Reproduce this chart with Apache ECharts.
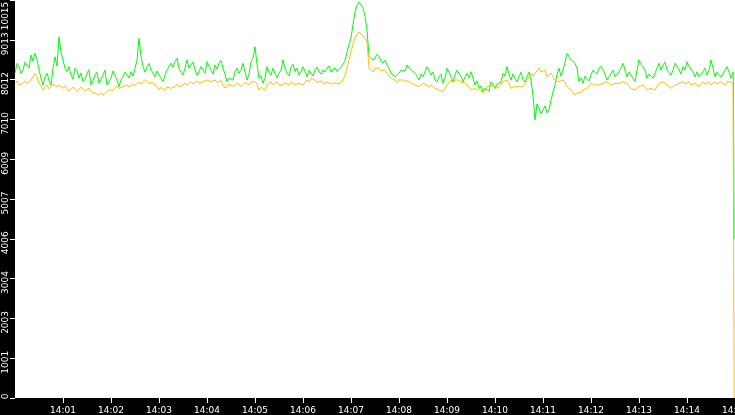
<!DOCTYPE html>
<html>
<head>
<meta charset="utf-8">
<script src="https://cdn.jsdelivr.net/npm/echarts@6.0.0/dist/echarts.min.js"></script>
<style>
html,body{margin:0;padding:0;background:#000;}
#chart{width:735px;height:415px;}
</style>
</head>
<body>
<div id="chart"></div>
<script>
// seconds after 14:00:00, one sample every 2.5 s
var stepSec = 2.5;
var greenVals = [
	8171,8420,8337,8160,8254,8450,8380,8300,8631,8480,
	8674,8520,8254,8050,7876,8080,8171,8000,7876,8300,
	8588,8350,9092,8700,8505,8300,8211,8340,8128,8020,
	8297,8240,8045,8180,7959,8020,8171,8260,7876,7980,
	8128,8200,7919,7960,8128,8250,7876,7960,8045,8230,
	8128,7990,7834,8010,8085,8200,8128,8050,8211,8100,
	8297,8500,9051,8600,8337,8200,8337,8420,8254,8180,
	8085,8230,8128,8050,7959,8120,8254,8300,8422,8330,
	8463,8550,8297,8200,8128,8300,8505,8300,8380,8460,
	8254,8120,8211,8340,8254,8180,8463,8350,8254,8150,
	8380,8280,8422,8500,8297,8150,7959,8050,8085,8000,
	8211,8300,8171,8250,8422,8200,8002,8150,8463,8550,
	8840,8400,8045,8100,7919,8050,8337,8200,8128,8300,
	8171,8060,8171,8250,8505,8300,8171,8100,8337,8400,
	8211,8300,8128,8200,8337,8220,8085,8250,8171,8100,
	8254,8330,8211,8150,8254,8200,8304,8360,8204,8250,
	8304,8220,8254,8320,8354,8480,8707,8900,9059,9400,
	9713,9880,9965,9920,9814,9600,9260,8600,8631,8500,
	8556,8650,8588,8480,8422,8500,8380,8300,8171,8220,
	8085,8050,8171,8250,8297,8220,8380,8420,8254,8280,
	8171,8100,8002,8150,8085,8050,8337,8250,8128,8200,
	8002,7950,8085,8150,7919,8050,8297,8200,8085,7950,
	8128,8250,8211,8100,7959,8080,8171,8050,8211,8050,
	7876,7980,7793,7850,7708,7800,7793,7720,7959,7900,
	7793,7900,7876,7950,8171,8100,8337,8150,8002,8150,
	8045,7950,8085,8200,8002,7950,8085,8200,8002,7600,
	6996,7400,7298,7150,7248,7350,7172,7250,7499,7700,
	7876,8150,8297,8100,8254,8450,8674,8600,8505,8550,
	8422,8300,7959,8050,7919,8100,8045,7980,8128,8250,
	8211,8150,8297,8350,8254,8150,8002,8080,8171,8250,
	8085,8050,8211,8300,8422,8250,8085,8200,8128,8050,
	7959,8250,8505,8400,8337,8250,8045,8150,8128,8050,
	8171,8300,8422,8250,8380,8450,8254,8300,8128,8250,
	8422,8350,8254,8150,8337,8250,8463,8350,8337,8200,
	8085,8200,8085,8050,8211,8300,8128,8250,8505,8300,
	8085,8200,8211,8080,8128,8250,8337,8200,8045,8200
];
var yellowVals = [
	7919,7980,7876,7830,7919,7980,7919,7870,8002,8050,
	8171,8080,7919,7850,7751,7800,7876,7780,7834,7900,
	7876,7820,7876,7900,7793,7850,7793,7720,7751,7820,
	7793,7720,7751,7820,7793,7720,7751,7800,7708,7740,
	7668,7700,7625,7680,7625,7600,7708,7760,7793,7740,
	7793,7850,7793,7760,7834,7880,7876,7820,7876,7920,
	7876,7840,7959,7900,7959,8010,8002,7920,7876,7940,
	7876,7820,7751,7820,7793,7740,7834,7880,7793,7760,
	7834,7900,7834,7800,7876,7930,7876,7850,7959,7900,
	7919,7980,7919,7870,7959,7920,8002,8040,7959,7920,
	8002,7940,7959,7990,7876,7800,7834,7900,7919,7840,
	7876,7930,7919,7840,7876,7940,7919,7880,7959,7910,
	7959,7900,7751,7820,7793,7740,7876,7900,7959,7880,
	7919,7960,7876,7830,7876,7940,7919,7870,7959,7920,
	7876,7840,7919,7940,7876,7900,8002,7950,8045,8060,
	8002,7940,7959,7980,7902,7860,7952,7960,7902,7860,
	7927,7960,7902,7930,8002,8120,8304,8500,8707,8900,
	9059,9150,9209,9230,9109,9050,8958,8300,8254,8200,
	8304,8330,8297,8230,8211,8260,8171,8100,8045,8080,
	8002,7940,8002,8050,8002,7950,8002,7980,7919,7950,
	7876,7900,7834,7820,7919,7940,7876,7820,7876,7880,
	7793,7820,7751,7760,7708,7720,7876,7920,8002,7940,
	8002,8050,8002,7940,7919,7930,7876,7840,7751,7800,
	7793,7740,7793,7760,7668,7720,7834,7800,7876,7880,
	7793,7780,7834,7880,7959,7930,8002,7920,7793,7760,
	7834,7880,7834,7790,7834,7900,8002,8050,8171,8100,
	8171,8230,8304,8200,8211,8250,8085,8050,8171,8150,
	8002,8050,7959,7920,8002,7950,7834,7800,7751,7720,
	7625,7680,7708,7680,7751,7800,7793,7830,7919,7950,
	7876,7920,7876,7840,7919,7880,7959,7960,7876,7840,
	7919,7960,7919,7870,7959,7920,7919,7880,7793,7830,
	7751,7780,7834,7800,7876,7840,7751,7800,7793,7760,
	7751,7800,7919,7880,7959,7940,7876,7880,7793,7800,
	7876,7840,7919,7880,7959,7900,7919,7960,7876,7830,
	7919,7940,7834,7900,7959,7900,7919,7960,7876,7850,
	7959,7900,7919,7960,7919,7870,7959,7910,7959,7900
];
// last two samples, where both series fall away
var tailSecs = [898, 899];
var greenTail = [7959, 4001];
var yellowTail = [7919, 0];
var minuteTicks = [60,120,180,240,300,360,420,480,540,600,660,720,780,840,900];

function pairs(vals, tail){
	var d = vals.map(function(v, i){ return [i*stepSec, v]; });
	tail.forEach(function(v, i){ d.push([tailSecs[i], v]); });
	return d;
}
function pad(n){ return n < 10 ? '0' + n : '' + n; }

var chart = echarts.init(document.getElementById('chart'));
chart.setOption({
	backgroundColor: '#000',
	animation: false,
	grid: {left: 15, right: 0, top: 0, bottom: 17, show: true, backgroundColor: '#fff', borderWidth: 0,
		containLabel: false, outerBoundsMode: 'none'},
	xAxis: {
		type: 'value', min: 0, max: 900,
		splitLine: {show: false},
		axisLine: {show: false},
		axisTick: {show: true, length: 5, lineStyle: {color: '#fff', width: 1}, customValues: minuteTicks},
		axisLabel: {
			color: '#fff', fontFamily: 'DejaVu Sans', fontSize: 9, margin: 8,
			customValues: minuteTicks, hideOverlap: false,
			formatter: function(v){ return '14:' + pad(Math.round(v/60)); }
		}
	},
	yAxis: {
		type: 'value', min: 0, max: 10015, interval: 1001.5,
		splitLine: {show: false},
		axisLine: {show: false},
		axisTick: {show: true, length: 5, lineStyle: {color: '#fff', width: 1}},
		axisLabel: {
			color: '#fff', fontFamily: 'DejaVu Sans', fontSize: 9, margin: 9,
			rotate: 90, align: 'center', verticalAlign: 'middle',
			showMinLabel: true, showMaxLabel: true,
			formatter: function(v){
				var s = String(Math.floor(v + 1e-6));
				if (v === 0) return '{lo|' + s + '}';
				if (v >= 10015) return '{hi|' + s + '}';
				return '{n|' + s + '}';
			},
			rich: {
				n: {color: '#fff', fontFamily: 'DejaVu Sans', fontSize: 9, padding: [0, 8, 0, 0]},
				lo: {color: '#fff', fontFamily: 'DejaVu Sans', fontSize: 9, padding: [0, 0, 0, 3]},
				hi: {color: '#fff', fontFamily: 'DejaVu Sans', fontSize: 9, padding: [0, 32, 0, 0]}
			}
		}
	},
	series: [
		{type: 'line', data: pairs(greenVals, greenTail), showSymbol: false, symbol: 'none',
			lineStyle: {color: '#00ff00', width: 1}, itemStyle: {color: '#00ff00'}},
		{type: 'line', data: pairs(yellowVals, yellowTail), showSymbol: false, symbol: 'none',
			lineStyle: {color: '#ffc000', width: 1}, itemStyle: {color: '#ffc000'}}
	]
});
</script>
</body>
</html>
